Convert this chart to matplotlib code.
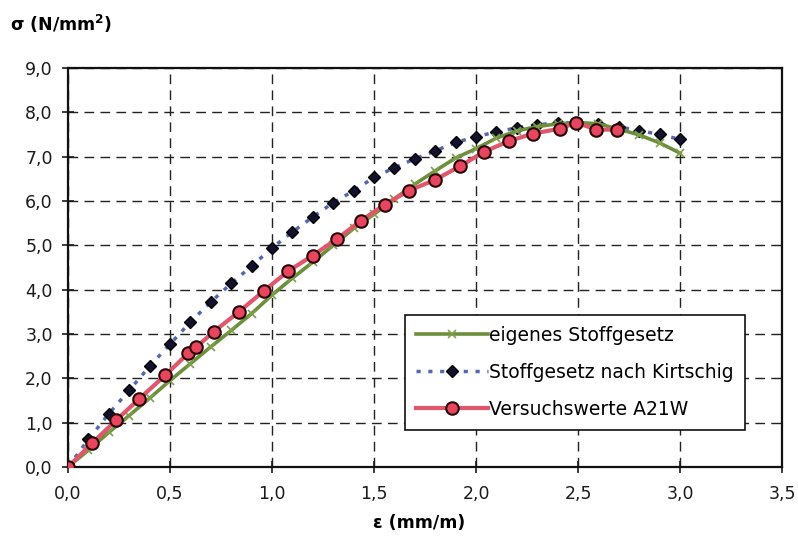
import matplotlib
matplotlib.use("Agg")
import matplotlib.pyplot as plt
from matplotlib.ticker import FuncFormatter, MultipleLocator

plt.rcParams['font.family'] = ['DejaVu Sans']

# eigenes Stoffgesetz (green)
eps_eigen = [0.0, 0.1, 0.2, 0.3, 0.4, 0.5, 0.6, 0.7, 0.8, 0.9, 1.0,
             1.1, 1.2, 1.3, 1.4, 1.5, 1.6, 1.7, 1.8, 1.9, 2.0,
             2.1, 2.2, 2.3, 2.4, 2.5, 2.6, 2.7, 2.8, 2.9, 3.0]
sig_eigen = [0.0, 0.38, 0.78, 1.16, 1.55, 1.95, 2.33, 2.71, 3.08, 3.46, 3.88,
             4.26, 4.62, 5.00, 5.38, 5.70, 6.05, 6.38, 6.68, 6.97, 7.18,
             7.42, 7.58, 7.68, 7.74, 7.77, 7.74, 7.62, 7.49, 7.31, 7.08]

# Stoffgesetz nach Kirtschig (diamonds)
eps_kirt = [0.0, 0.1, 0.2, 0.3, 0.4, 0.5, 0.6, 0.7, 0.8, 0.9, 1.0,
            1.1, 1.2, 1.3, 1.4, 1.5, 1.6, 1.7, 1.8, 1.9, 2.0,
            2.1, 2.2, 2.3, 2.4, 2.5, 2.6, 2.7, 2.8, 2.9, 3.0]
sig_kirt = [0.0, 0.62, 1.20, 1.73, 2.27, 2.77, 3.27, 3.72, 4.14, 4.53, 4.94,
            5.30, 5.64, 5.96, 6.23, 6.53, 6.75, 6.95, 7.13, 7.32, 7.45,
            7.56, 7.65, 7.72, 7.76, 7.77, 7.73, 7.67, 7.59, 7.50, 7.39]

# Versuchswerte A21W (red circles)
eps_vers = [0.0, 0.117, 0.237, 0.35, 0.477, 0.588, 0.628, 0.714, 0.838, 0.962,
            1.08, 1.20, 1.317, 1.434, 1.553, 1.67, 1.80, 1.92, 2.04, 2.16,
            2.28, 2.41, 2.49, 2.59, 2.69]
sig_vers = [0.0, 0.53, 1.06, 1.54, 2.07, 2.56, 2.70, 3.05, 3.50, 3.98,
            4.42, 4.77, 5.14, 5.55, 5.92, 6.23, 6.48, 6.78, 7.11, 7.35,
            7.52, 7.63, 7.77, 7.61, 7.61]

fig = plt.figure(figsize=(7.98, 5.51), dpi=100)
ax = fig.add_axes([0.0852, 0.1525, 0.8948, 0.7241])

ax.plot(eps_eigen, sig_eigen, color='#6b8f3a', lw=2.6, marker='x',
        markersize=6, markeredgewidth=1.2, markeredgecolor='#7fa04a',
        label='eigenes Stoffgesetz', zorder=3)
ax.plot(eps_kirt, sig_kirt, color='#5468b0', lw=2.5, linestyle=(0, (1.2, 2.2)),
        marker='D', markersize=6.5, markerfacecolor='#12122e',
        markeredgecolor='#000000', label='Stoffgesetz nach Kirtschig', zorder=2)
ax.plot(eps_vers, sig_vers, color='#e0566a', lw=3, marker='o', markersize=9,
        markerfacecolor='#e8465e', markeredgecolor='#2a0508',
        markeredgewidth=1.5, label='Versuchswerte A21W', zorder=4)

ax.set_xlim(0, 3.5)
ax.set_ylim(0, 9)
ax.xaxis.set_major_locator(MultipleLocator(0.5))
ax.yaxis.set_major_locator(MultipleLocator(1.0))
comma = FuncFormatter(lambda v, p: f"{v:.1f}".replace('.', ','))
ax.xaxis.set_major_formatter(comma)
ax.yaxis.set_major_formatter(comma)
ax.tick_params(direction='inout', length=8, width=1.2, labelsize=12.5,
               colors='#1a1a1a', pad=7)
ax.tick_params(axis='x', pad=9)
ax.grid(True, color='#222222', linestyle=(0, (7, 4.5)), linewidth=1.0)
for s in ax.spines.values():
    s.set_linewidth(1.6)
    s.set_color('#111111')
ax.set_axisbelow(True)

fig.text(0.012, 0.957, 'σ (N/mm$^\\mathbf{2}$)', fontsize=12.5, fontweight='bold',
         ha='left', va='center')
fig.text(0.525, 0.05, 'ε (mm/m)', fontsize=12.5, fontweight='bold',
         ha='center', va='center')

leg = ax.legend(loc='lower left', bbox_to_anchor=(0.472, 0.093),
                borderaxespad=0, fontsize=13.5, handlelength=3.8,
                handletextpad=0.1, labelspacing=0.95, fancybox=False,
                framealpha=1, edgecolor='#111111', borderpad=0.6)
leg.get_frame().set_linewidth(1.2)

fig.savefig('out.png', dpi=100)
